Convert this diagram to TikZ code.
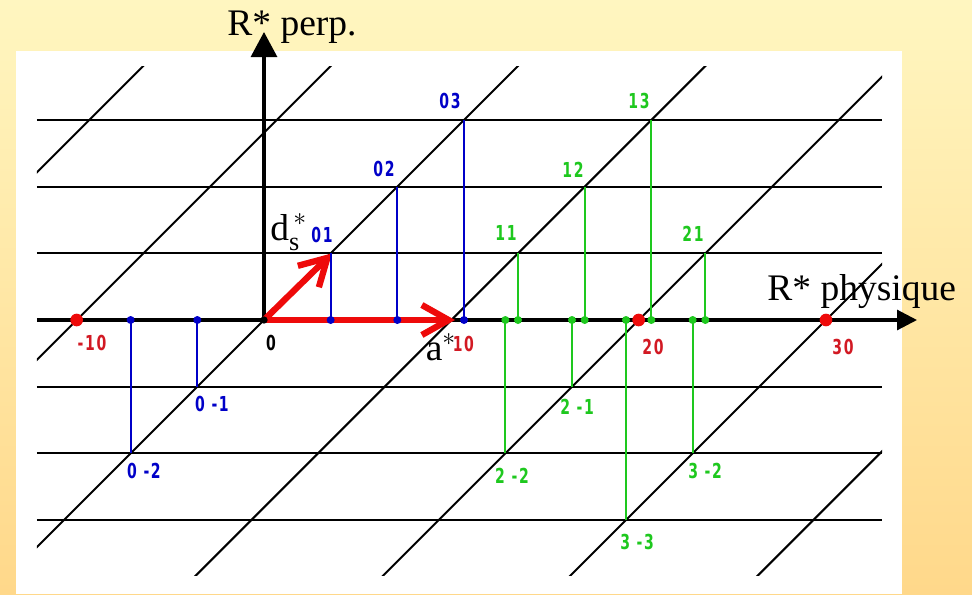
\documentclass[tikz,border=0pt]{standalone}
\usepackage{fontspec}
\setmainfont{Liberation Serif}
\newfontfamily\numfont{DejaVu Sans}[FakeStretch=0.68,LetterSpace=8]
\usetikzlibrary{arrows.meta}

\definecolor{bgtop}{RGB}{255,246,192}
\definecolor{bgbot}{RGB}{255,216,138}
\definecolor{ptblue}{RGB}{0,0,200}
\definecolor{ptgreen}{RGB}{30,200,30}
\definecolor{ptred}{RGB}{238,10,10}
\definecolor{labred}{RGB}{210,25,35}

\tikzset{
  gridline/.style={line width=0.85pt},
  axis/.style={line width=1.3pt},
  proj/.style={line width=0.85pt},
  vecarrow/.style={ptred,line width=2.7pt,-{Straight Barb[length=0.4cm,width=0.45cm]}},
  lab/.style={font=\numfont\bfseries\fontsize{8.8}{9}\selectfont,inner sep=0pt},
  big/.style={font=\fontsize{16}{19}\selectfont,inner sep=0pt},
}

\begin{document}
\begin{tikzpicture}[x=1cm,y=1cm]
    \useasboundingbox (-3.96,-4.11) rectangle (10.62,4.8);
    % background
    \shade[top color=bgtop,bottom color=bgbot] (-3.96,-4.11) rectangle (10.62,4.8);
    \fill[white] (-3.72,-4.11) rectangle (9.57,4.035);
    % lattice
    \begin{scope}
        \clip (-3.405,-3.825) rectangle (9.27,3.81);
        \foreach \n in {-2,...,4}
            \draw[gridline] ({2.81*\n-4},-4) -- ({2.81*\n+4},4);
    \end{scope}
    \foreach \m in {-3,-2,-1,1,2,3}
        \draw[gridline] (-3.405,\m) -- (9.27,\m);
    % axes
    \coordinate (O) at (0,0);
    \coordinate (xend) at (9.795,0);
    \coordinate (yend) at (0,4.32);
    \draw[axis,-{Triangle[length=0.3cm,width=0.3cm]}] (-3.405,0) -- (xend);
    \draw[axis,-{Triangle[length=0.375cm,width=0.39cm]}] (O) -- (yend);
    % vectors
    \draw[vecarrow] (O) -- (2.865,0);
    \draw[vecarrow] (O) -- (1.02,1.0);
    % projections of the lattice points
    \foreach \x/\y [count=\i] in {1/1,2/2,3/3,-1/-1,-2/-2} {
        \coordinate (b\i) at (\x,\y);
        \draw[proj,ptblue] (b\i) -- (b\i |- O);
        \fill[ptblue] (b\i |- O) circle (0.06);
    }
    \foreach \x/\y [count=\i] in {3.81/1,4.81/2,5.81/3,6.62/1,4.62/-1,3.62/-2,6.43/-2,5.43/-3} {
        \coordinate (g\i) at (\x,\y);
        \draw[proj,ptgreen] (g\i) -- (g\i |- O);
        \fill[ptgreen] (g\i |- O) circle (0.06);
    }
    \foreach \x in {-2.81,5.62,8.43}
        \fill[ptred] (\x,0) circle (0.095);
    \fill (O) circle (0.055);
    % labels
    \foreach \x/\y/\t [count=\i] in {2.79/3.285/03,1.8/2.265/02,0.87/1.275/01,
        -0.78/-1.26/0 -1,-1.8/-2.265/0 -2}
        \node[lab,ptblue] (lb\i) at (\x,\y) {\t};
    \foreach \x/\y/\t [count=\i] in {5.625/3.285/13,4.635/2.25/12,3.63/1.305/11,
        6.435/1.29/21,4.695/-1.305/2 -1,3.72/-2.34/2 -2,6.615/-2.265/3 -2,5.595/-3.33/3 -3}
        \node[lab,ptgreen] (lg\i) at (\x,\y) {\t};
    \foreach \x/\y/\t [count=\i] in {-2.58/-0.345/-10,2.99/-0.36/10,5.835/-0.405/20,8.685/-0.405/30}
        \node[lab,labred] (lr\i) at (\x,\y) {\t};
    \node[lab] (l0) at (0.105,-0.345) {0};
    \node[big,anchor=base west] (perp) at (-0.555,4.275) {R* perp.};
    \node[big,anchor=base west] (phys) at (7.545,0.3) {R* physique};
    \node[big,anchor=base west] (ds) at (0.09,1.2) {d$_{\mathrm{s}}^{\,*}$};
    \node[big,anchor=base west] (astar) at (2.42,-0.6) {a$^{*}$};
\end{tikzpicture}
\end{document}
